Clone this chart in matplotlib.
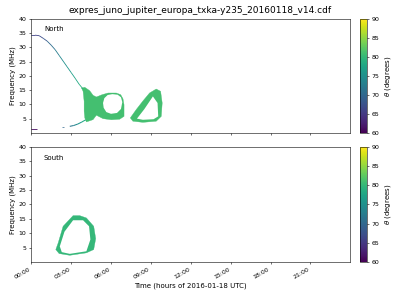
import numpy as np
import matplotlib
matplotlib.use("Agg")
import matplotlib.pyplot as plt
from matplotlib.collections import LineCollection
from matplotlib.ticker import FuncFormatter

# ---- data (time in hours of 2016-01-18, freq in MHz) ----
title = "expres_juno_jupiter_europa_txka-y235_20160118_v14.cdf"

# North: thin arc coming down from ~34 MHz
north_arc_time = [0.0, 0.3, 0.6, 0.9, 1.2, 1.5, 1.8, 2.1, 2.4, 2.7, 3.0, 3.3, 3.6, 3.9]
north_arc_freq = [34.3, 34.3, 34.1, 33.2, 32.2, 30.8, 29.2, 27.2, 25.2, 23.2, 21.2, 19.2, 17.1, 15.4]
north_arc_theta = [66, 66, 67, 68, 70, 71, 72.5, 74, 75, 76, 77, 78, 79, 80]

# North: low-frequency tail feeding into the first blob
north_tail_time = [2.9, 3.2, 3.5, 3.8, 4.1]
north_tail_freq = [2.3, 2.6, 3.1, 3.8, 4.6]
north_tail_theta = [72, 74, 76, 78, 80]
north_tail2_time = [2.3, 2.5]
north_tail2_freq = [1.95, 1.95]
north_tail2_theta = [70, 70]

# North: short low dash near 00:00
north_dash_time = [0.0, 0.4]
north_dash_freq = [1.5, 1.5]
north_dash_theta = [61, 61]

# North: first emission blob (outline + hole)
blob1_time = [3.78, 3.9, 3.98, 3.98, 4.03, 4.15, 4.65, 4.9, 5.4, 6.03, 6.65, 6.98,
              6.98, 6.9, 6.73, 6.4, 5.78, 5.33, 4.9, 4.65, 4.4, 4.03]
blob1_freq = [15.75, 14.6, 11.1, 7.6, 5.25, 3.85, 4.65, 6.2, 5.0, 4.6, 4.8, 5.8,
              9.9, 12.0, 13.4, 14.0, 14.0, 13.4, 12.6, 13.2, 14.8, 16.0]
hole1_time = [5.4, 5.5, 5.75, 6.1, 6.5, 6.75, 6.85, 6.75, 6.45, 6.0, 5.65, 5.45]
hole1_freq = [10.5, 12.2, 13.3, 13.6, 13.4, 12.5, 10.8, 8.4, 7.0, 6.7, 7.3, 8.8]
blob1_theta = 81

# North: second emission blob (outline + hole)
blob2_time = [7.45, 7.9, 8.4, 8.9, 9.4, 9.73, 9.85, 9.78, 9.4, 8.4, 7.65]
blob2_freq = [5.25, 8.2, 11.2, 14.0, 15.4, 14.6, 10.5, 5.8, 4.1, 3.7, 4.1]
hole2_time = [7.95, 8.5, 9.15, 9.5, 9.55, 9.2, 8.4]
hole2_freq = [5.0, 8.3, 12.8, 10.5, 5.8, 4.8, 4.6]
blob2_theta = 81

# South: ring-shaped emission
south_time = [1.85, 2.03, 2.4, 3.15, 3.65, 4.15, 4.7, 4.85, 4.7, 4.15, 2.9, 2.1]
south_freq = [4.3, 6.6, 12.4, 16.1, 16.1, 15.3, 12.4, 8.1, 4.3, 3.15, 2.3, 2.9]
south_hole_time = [2.15, 2.5, 3.15, 3.9, 4.35, 4.45, 4.15, 2.9, 2.3]
south_hole_freq = [5.4, 10.5, 14.5, 14.5, 12.4, 7.8, 3.7, 2.8, 3.4]
south_theta = 80

theta_min, theta_max = 60, 90
xticks_hours = [0, 3, 6, 9, 12, 15, 18, 21]
yticks_mhz = [5, 10, 15, 20, 25, 30, 35, 40]

cmap = plt.get_cmap("viridis")
norm = plt.Normalize(theta_min, theta_max)


def add_line(ax, t, f, th, lw):
    pts = np.column_stack([t, f]).reshape(-1, 1, 2)
    segs = np.concatenate([pts[:-1], pts[1:]], axis=1)
    lc = LineCollection(segs, cmap=cmap, norm=norm, linewidths=lw)
    lc.set_array(np.asarray(th[:-1], dtype=float))
    ax.add_collection(lc)


def add_blob(ax, t, f, ht, hf, th):
    ax.fill(t, f, color=cmap(norm(th)), lw=0.5, ec=cmap(norm(th)))
    ax.fill(ht, hf, color="white", lw=0)


fig = plt.figure(figsize=(8, 6), dpi=50)
ax_n = fig.add_axes([0.078, 0.557, 0.798, 0.38])
ax_s = fig.add_axes([0.078, 0.127, 0.798, 0.383])
cax_n = fig.add_axes([0.9, 0.557, 0.0175, 0.38])
cax_s = fig.add_axes([0.9, 0.127, 0.0175, 0.383])

# North panel
add_line(ax_n, north_arc_time, north_arc_freq, north_arc_theta, 1.2)
add_line(ax_n, north_tail_time, north_tail_freq, north_tail_theta, 1.5)
add_line(ax_n, north_tail2_time, north_tail2_freq, north_tail2_theta, 1.0)
add_line(ax_n, north_dash_time, north_dash_freq, north_dash_theta, 1.2)
add_blob(ax_n, blob1_time, blob1_freq, hole1_time, hole1_freq, blob1_theta)
add_blob(ax_n, blob2_time, blob2_freq, hole2_time, hole2_freq, blob2_theta)
ax_n.text(0.04, 0.91, "North", transform=ax_n.transAxes, fontsize=10, va="center")

# South panel
add_blob(ax_s, south_time, south_freq, south_hole_time, south_hole_freq, south_theta)
ax_s.text(0.04, 0.90, "South", transform=ax_s.transAxes, fontsize=10, va="center")

for ax in (ax_n, ax_s):
    ax.set_xlim(0, 24)
    ax.set_ylim(0, 40)
    ax.set_xticks(xticks_hours)
    ax.set_yticks(yticks_mhz)
    ax.set_ylabel("Frequency (MHz)", fontsize=10)
    ax.tick_params(labelsize=9)

ax_n.tick_params(labelbottom=False)
ax_s.xaxis.set_major_formatter(FuncFormatter(lambda v, p: "%02d:00" % int(v)))
for lab in ax_s.get_xticklabels():
    lab.set_rotation(30)
    lab.set_ha("right")
ax_s.set_xlabel("Time (hours of 2016-01-18 UTC)", fontsize=10)

for cax in (cax_n, cax_s):
    sm = plt.cm.ScalarMappable(norm=norm, cmap=cmap)
    cb = fig.colorbar(sm, cax=cax)
    cb.set_ticks(np.arange(theta_min, theta_max + 1, 5))
    cb.ax.tick_params(labelsize=9)
    cb.set_label(r"$\theta$ (degrees)", fontsize=10)

fig.suptitle(title, fontsize=13)

fig.savefig("out.png", dpi=50, facecolor="white")
